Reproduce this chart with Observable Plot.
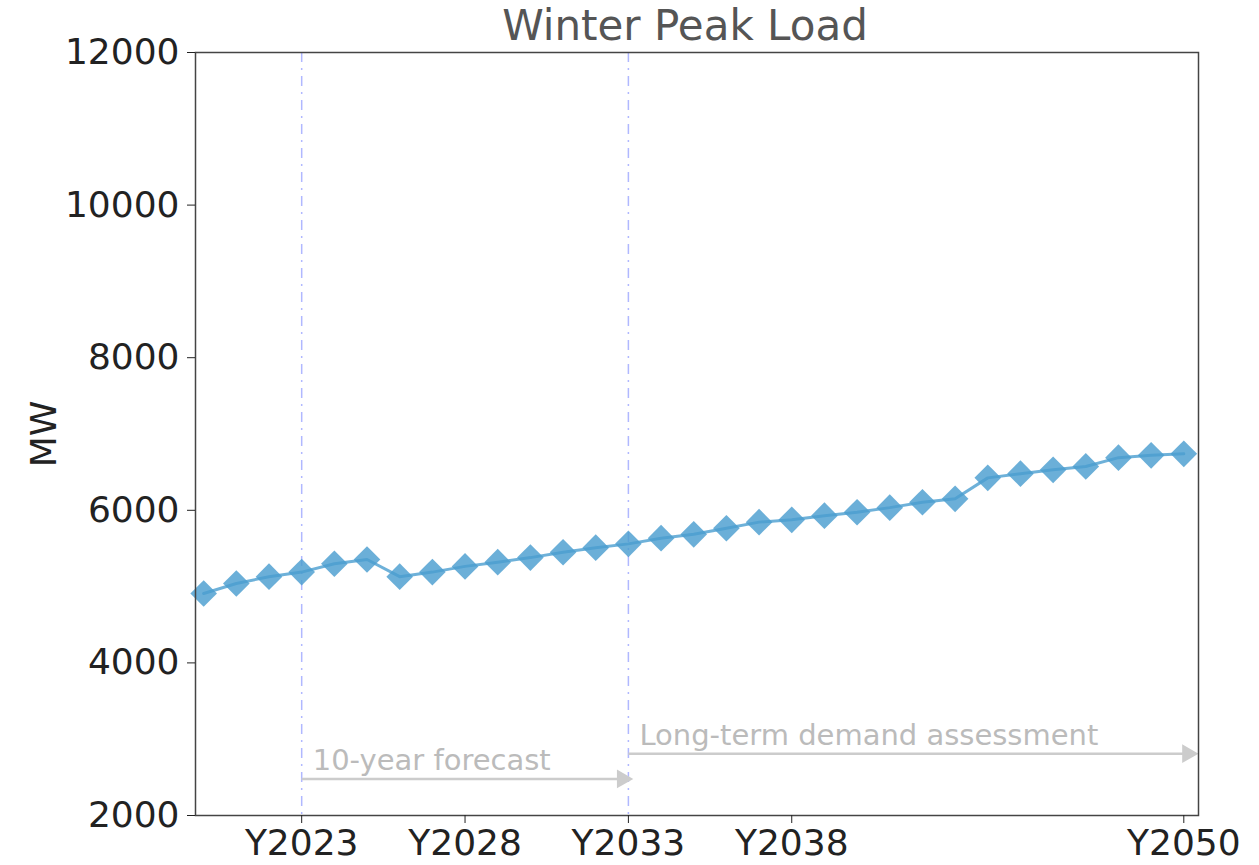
<!DOCTYPE html>
<html>
<head>
<meta charset="utf-8">
<script src="https://cdn.jsdelivr.net/npm/d3@7"></script>
<script src="https://cdn.jsdelivr.net/npm/@observablehq/plot@0.6"></script>
<style>
  html, body { margin: 0; padding: 0; background: #fff; }
  svg { font-family: "DejaVu Sans", sans-serif; }
</style>
</head>
<body>
<div id="chart"></div>
<script>
// ---- data ----
const years = [2020, 2021, 2022, 2023, 2024, 2025, 2026, 2027, 2028, 2029, 2030,
  2031, 2032, 2033, 2034, 2035, 2036, 2037, 2038, 2039, 2040,
  2041, 2042, 2043, 2044, 2045, 2046, 2047, 2048, 2049, 2050];
const peakMW = [4910, 5040, 5130, 5190, 5300, 5355, 5130, 5190, 5265, 5320, 5380,
  5450, 5510, 5560, 5635, 5685, 5765, 5845, 5875, 5930, 5975,
  6035, 6105, 6150, 6425, 6480, 6530, 6575, 6690, 6720, 6740];
const xTicks = [2023, 2028, 2033, 2038, 2050];
const yTicks = [2000, 4000, 6000, 8000, 10000, 12000];
const markerYears = [2023, 2033];
const periodLabels = ["10-year forecast", "Long-term demand assessment"];
const periodStart = [2023, 2033];
const periodEnd = [2033, 2050.3];
const arrowLevel = [2480, 2810];
const labelLevel = [2720, 3050];
const titleText = "Winter Peak Load";
const yLabel = "MW";

const series = years.map((y, i) => ({year: y, mw: peakMW[i]}));
const periods = periodLabels.map((t, i) => ({
  label: t, x1: periodStart[i], x2: periodEnd[i], ya: arrowLevel[i], yl: labelLevel[i]
}));

const blue = "#4a9ecf";

const chart = Plot.plot({
  width: 1259,
  height: 865,
  marginLeft: 195,
  marginRight: 61,
  marginTop: 52,
  marginBottom: 50,
  style: {fontFamily: "DejaVu Sans, sans-serif", color: "#222", background: "#fff"},
  x: {domain: [2019.75, 2050.45]},
  y: {domain: [2000, 12000]},
  marks: [
    Plot.ruleX(markerYears, {stroke: "#b0b8ff", strokeWidth: 1.5, strokeDasharray: "10,6,2,6"}),
    Plot.link(periods, {x1: "x1", x2: d => d.x2 - 0.3, y1: "ya", y2: "ya", stroke: "#cccccc", strokeWidth: 2.5}),
    Plot.dot(periods, {x: "x2", y: "ya", symbol: "triangle", rotate: 90, r: 7, dx: -6, fill: "#cccccc"}),
    Plot.text(periods, {x: "x1", y: "yl", text: "label", textAnchor: "start", dx: 11,
      fill: "#bbbbbb", fontSize: 29}),
    Plot.line(series, {x: "year", y: "mw", stroke: blue, strokeWidth: 3, strokeOpacity: 0.8}),
    Plot.dot(series, {x: "year", y: "mw", symbol: "diamond2", r: 12, fill: blue, fillOpacity: 0.82, stroke: "none"}),
    Plot.frame({stroke: "#444", strokeWidth: 1.5}),
    Plot.axisY({ticks: yTicks, tickSize: 8, tickPadding: 8, fontSize: 36, tickFormat: d => String(d),
      label: yLabel, labelAnchor: "center", labelArrow: "none", labelOffset: 165}),
    Plot.axisX({ticks: xTicks, tickSize: 8, tickPadding: 6, fontSize: 36, tickFormat: d => "Y" + d,
      label: null}),
    Plot.text([titleText], {frameAnchor: "top", text: d => d, dy: -26, dx: -12, fontSize: 42, fill: "#555",
      lineAnchor: "middle"})
  ]
});
document.getElementById("chart").appendChild(chart);
</script>
</body>
</html>
